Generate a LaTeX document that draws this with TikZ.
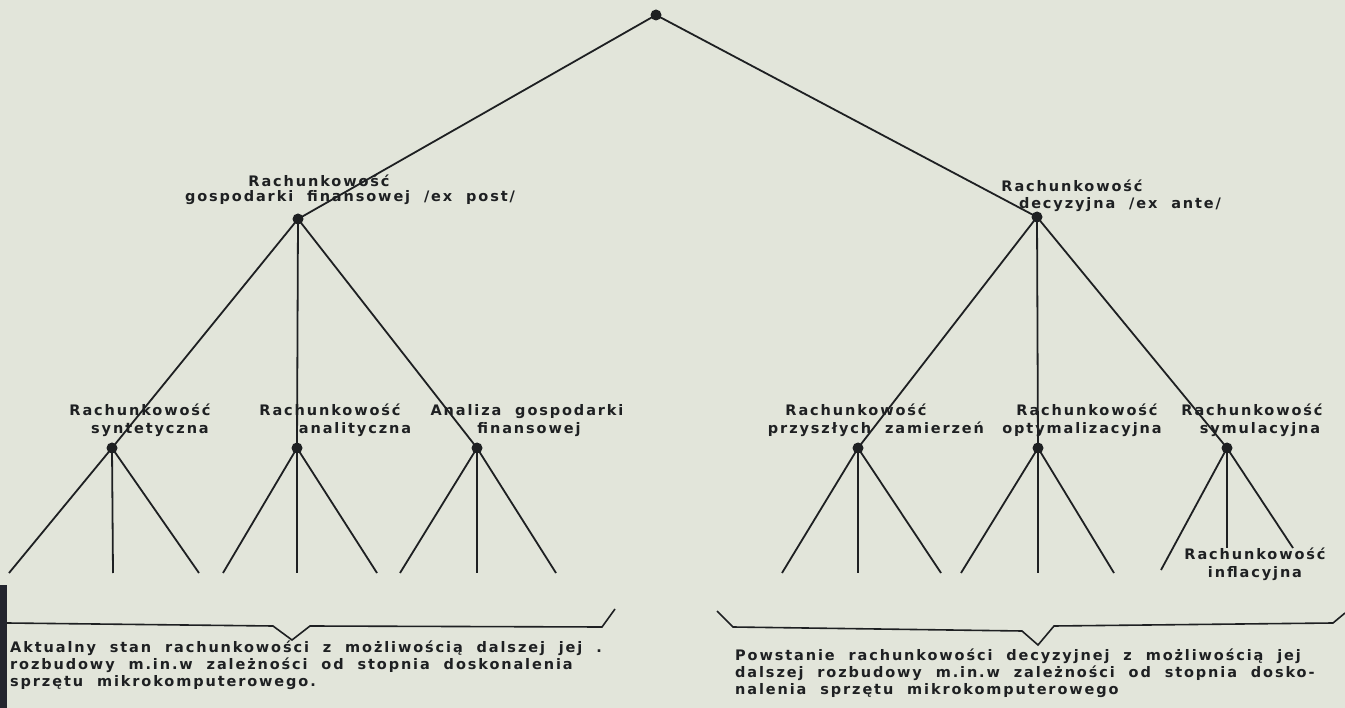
\documentclass[tikz,border=0pt]{standalone}
\usepackage{fontspec}
\setmainfont{DejaVu Sans}[LetterSpace=13,WordSpace=2.0,BoldFont={DejaVu Sans Bold}]
\definecolor{paper}{HTML}{E2E5DA}
\definecolor{ink}{HTML}{1E2022}
\definecolor{edge}{HTML}{23252E}
\begin{document}
\begin{tikzpicture}[x=1pt,y=-1pt,
  dot/.style={circle,fill=ink,inner sep=0pt,minimum size=11pt},
  branch/.style={draw=ink,line width=1.8pt},
  brace/.style={draw=ink,line width=1.6pt,line join=miter},
  lbl/.style={font=\fontsize{14.5}{18}\selectfont\bfseries,text=ink,inner sep=0pt,anchor=base},
  para/.style={font=\fontsize{14.5}{17}\selectfont\bfseries,text=ink,inner sep=0pt,anchor=base west}]
\fill[paper] (0,0) rectangle (1345,708);
\useasboundingbox (0,0) rectangle (1345,708);
% dark strip along the left edge of the sheet
\fill[edge] (0,585) rectangle (7,708);

% tree nodes
\node[dot] (root) at (656,15) {};
\node[dot] (post) at (298,219) {};
\node[dot] (ante) at (1037,217) {};
\node[dot] (syn)  at (112,448) {};
\node[dot] (ana)  at (297,448) {};
\node[dot] (afin) at (477,448) {};
\node[dot] (przy) at (858,448) {};
\node[dot] (opt)  at (1038,448) {};
\node[dot] (sym)  at (1227,448) {};

% free ends of the lowest branches
\coordinate (s1) at (9,573);   \coordinate (s2) at (113,573);  \coordinate (s3) at (199,573);
\coordinate (a1) at (223,573); \coordinate (a2) at (297,573);  \coordinate (a3) at (377,573);
\coordinate (f1) at (400,573); \coordinate (f2) at (477,573);  \coordinate (f3) at (556,573);
\coordinate (z1) at (782,573); \coordinate (z2) at (858,573);  \coordinate (z3) at (941,573);
\coordinate (o1) at (961,573); \coordinate (o2) at (1038,573); \coordinate (o3) at (1114,573);
\coordinate (m1) at (1161,570);\coordinate (m2) at (1227,548); \coordinate (m3) at (1293,548);

% branches
\draw[branch] (root.center) -- (post.center);
\draw[branch] (root.center) -- (ante.center);
\foreach \c in {syn,ana,afin} \draw[branch] (post.center) -- (\c.center);
\foreach \c in {przy,opt,sym} \draw[branch] (ante.center) -- (\c.center);
\foreach \p/\l in {syn/s,ana/a,afin/f,przy/z,opt/o,sym/m}
  \foreach \i in {1,2,3} \draw[branch] (\p.center) -- (\l\i);

% labels
\node[lbl] (postA) at (319,187) {Rachunkowość};
\node[lbl] (postB) at (350,202) {gospodarki finansowej /ex post/};
\node[lbl] (anteA) at (1072,192) {Rachunkowość};
\node[lbl] (anteB) at (1120,209) {decyzyjna /ex ante/};

\node[lbl] (synA)  at (140,416) {Rachunkowość};
\node[lbl] (synB)  at (150,434) {syntetyczna};
\node[lbl] (anaA)  at (330,416) {Rachunkowość};
\node[lbl] (anaB)  at (355,434) {analityczna};
\node[lbl] (afinA) at (527,416) {Analiza gospodarki};
\node[lbl] (afinB) at (529,434) {finansowej};
\node[lbl] (przyA) at (856,416) {Rachunkowość};
\node[lbl] (przyB) at (876,434) {przyszłych zamierzeń};
\node[lbl] (optA)  at (1087,416) {Rachunkowość};
\node[lbl] (optB)  at (1082,434) {optymalizacyjna};
\node[lbl] (symA)  at (1252,416) {Rachunkowość};
\node[lbl] (symB)  at (1260,434) {symulacyjna};
\node[lbl] (infA)  at (1255,559) {Rachunkowość};
\node[lbl] (infB)  at (1255,577) {inflacyjna};

% grouping braces
\coordinate (lb0) at (7,623);    \coordinate (lb1) at (273,626);
\coordinate (lbv) at (292,640);  \coordinate (lb2) at (310,626);
\coordinate (lb3) at (602,627);  \coordinate (lb4) at (615,609);
\draw[brace] (lb0) -- (lb1) -- (lbv) -- (lb2) -- (lb3) -- (lb4);
\coordinate (rb0) at (717,611);  \coordinate (rb1) at (733,627);
\coordinate (rb2) at (1022,631); \coordinate (rbv) at (1038,645);
\coordinate (rb3) at (1054,626); \coordinate (rb4) at (1333,623);
\coordinate (rb5) at (1345,613);
\draw[brace] (rb0) -- (rb1) -- (rb2) -- (rbv) -- (rb3) -- (rb4) -- (rb5);

% descriptions under the braces
\node[para] (lt1) at (10,652) {Aktualny stan rachunkowości z możliwością dalszej jej .};
\node[para] (lt2) at (10,669) {rozbudowy m.in.w zależności od stopnia doskonalenia};
\node[para] (lt3) at (10,686) {sprzętu mikrokomputerowego.};
\node[para] (rt1) at (735,660) {Powstanie rachunkowości decyzyjnej z możliwością jej};
\node[para] (rt2) at (735,677) {dalszej rozbudowy m.in.w zależności od stopnia dosko-};
\node[para] (rt3) at (735,694) {nalenia sprzętu mikrokomputerowego};
\end{tikzpicture}
\end{document}
